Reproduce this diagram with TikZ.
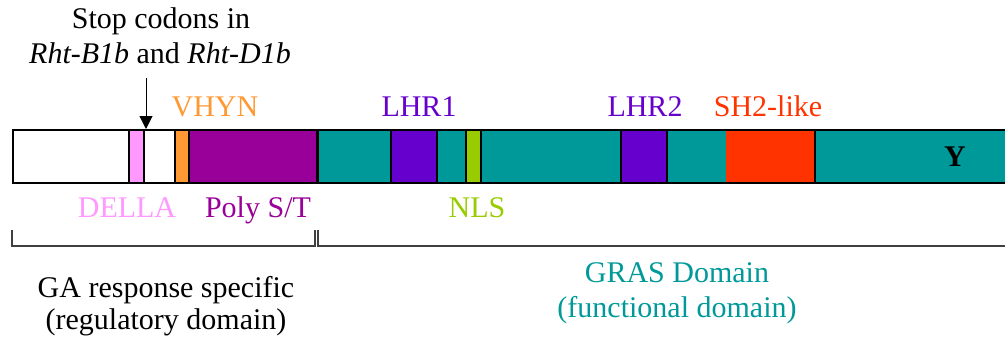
\documentclass[tikz,border=0pt]{standalone}
\usepackage{fontspec}
\setmainfont{Liberation Serif}
\usetikzlibrary{arrows.meta}
\definecolor{della}{HTML}{FF99FF}
\definecolor{vhyn}{HTML}{FF9933}
\definecolor{polyst}{HTML}{990099}
\definecolor{gras}{HTML}{009999}
\definecolor{lhr}{HTML}{6600CC}
\definecolor{nls}{HTML}{99CC00}
\definecolor{shtwo}{HTML}{FF3300}
\definecolor{brk}{HTML}{404040}
\begin{document}
\begin{tikzpicture}[x=1pt,y=-1pt,
  lbl/.style={inner sep=0pt, anchor=base, font=\fontsize{30}{36}\selectfont},
  seg/.style={draw=black, line width=1.3pt},
  brack/.style={draw=brk, line width=2pt},
  arr/.style={-{Triangle[width=13pt,length=13pt]}, line width=1pt}]
\useasboundingbox (0,0) rectangle (1005,341);
% bar segments
\path[seg, fill=white]  (13,130) rectangle (129,183);
\path[seg, fill=della]  (129,130) rectangle (144,183);
\path[seg, fill=white]  (144,130) rectangle (175,183);
\path[seg, fill=vhyn]   (175,130) rectangle (189,183);
\path[seg, fill=polyst] (189,130) rectangle (317,183);
\path[seg, fill=gras]   (317,130) rectangle (391,183);
\path[seg, fill=lhr]    (391,130) rectangle (437,183);
\path[seg, fill=gras]   (437,130) rectangle (466,183);
\path[seg, fill=nls]    (466,130) rectangle (481,183);
\path[seg, fill=gras]   (481,130) rectangle (621,183);
\path[seg, fill=lhr]    (621,130) rectangle (667,183);
\path[seg, fill=gras]   (667,130) rectangle (727,183);
\path[seg, fill=shtwo]  (727,130) rectangle (815,183);
\draw[shtwo, line width=1.3pt] (727,131) -- (727,182);
\path[seg, fill=gras]   (815,130) rectangle (1012,183);
\draw[black, line width=3pt] (317,130) -- (317,183);
% labels
\node[lbl] (stop1) at (161,28) {Stop codons in};
\node[lbl] (stop2) at (160,63) {\textit{Rht-B1b} and \textit{Rht-D1b}};
\node[lbl, text=vhyn] (vhyn) at (215,116) {VHYN};
\node[lbl, text=lhr] (lhr1) at (419,116) {LHR1};
\node[lbl, text=lhr] (lhr2) at (645,116) {LHR2};
\node[lbl, text=shtwo] (sh2) at (768,116) {SH2-like};
\node[lbl, text=della] (della) at (127,217) {DELLA};
\node[lbl, text=polyst] (poly) at (258,217) {Poly S/T};
\node[lbl, text=nls] (nlsl) at (477,217) {NLS};
\node[lbl, font=\fontsize{30}{36}\selectfont\bfseries] (ylab) at (955,166) {Y};
\node[lbl] (ga1) at (166,297) {GA response specific};
\node[lbl] (ga2) at (166,329) {(regulatory domain)};
\node[lbl, text=gras] (gras1) at (677,282) {GRAS Domain};
\node[lbl, text=gras] (gras2) at (677,317) {(functional domain)};
% arrow
\coordinate (atail) at (146,78);
\coordinate (ahead) at (146,129);
\draw[arr] (atail) -- (ahead);
% brackets
\draw[brack] (12,230) -- (12,246) -- (315,246) -- (315,230);
\draw[brack] (318,230) -- (318,246) -- (1012,246);
\end{tikzpicture}
\end{document}
